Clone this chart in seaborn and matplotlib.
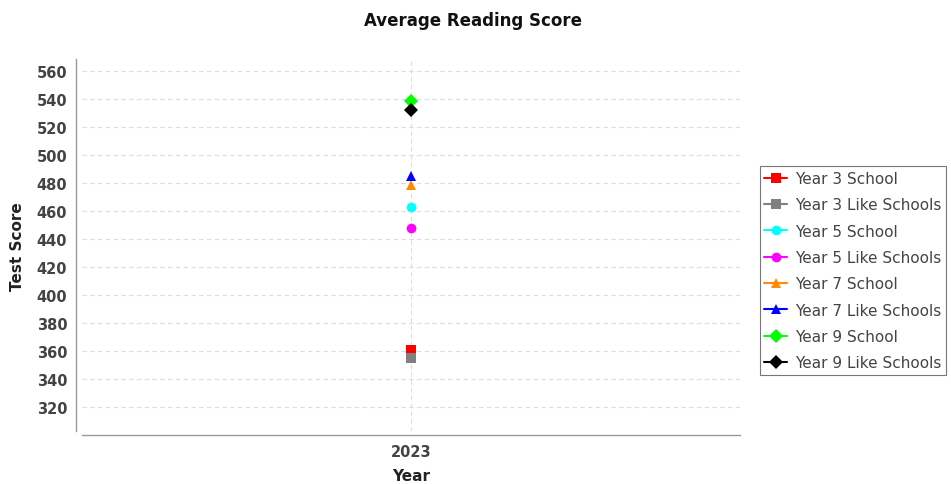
import pandas as pd
import seaborn as sns
import matplotlib.pyplot as plt

# data
series = ["Year 3 School", "Year 3 Like Schools", "Year 5 School", "Year 5 Like Schools",
          "Year 7 School", "Year 7 Like Schools", "Year 9 School", "Year 9 Like Schools"]
years = [2023] * 8
scores = [361, 355, 463, 448, 479, 485, 539, 532]
colors = ["#FF0000", "#808080", "#00FFFF", "#FF00FF", "#FF8C00", "#0000FF", "#00FF00", "#000000"]
markers = ["s", "s", "o", "o", "^", "^", "D", "D"]
y_ticks = list(range(320, 561, 20))

df = pd.DataFrame({"Year": years, "Score": scores, "Series": series})

sns.set_style("white")
plt.rcParams["font.family"] = ["DejaVu Sans"]

fig = plt.figure(figsize=(9.51, 4.85), dpi=100)
ax = fig.add_axes([0.086, 0.109, 0.692, 0.767])

sns.lineplot(data=df, x="Year", y="Score", hue="Series", style="Series",
             hue_order=series, style_order=series,
             palette=dict(zip(series, colors)), markers=dict(zip(series, markers)),
             dashes=False, markersize=7, markeredgewidth=0, ax=ax)

ax.set_xlim(2022, 2024)
ax.set_ylim(302.9, 568.6)
ax.set_xticks([2023])
ax.set_xticklabels(["2023"])
ax.set_yticks(y_ticks)
ax.grid(True, color="#dcdcdc", linestyle=(0, (4, 3)), linewidth=0.8)
ax.set_axisbelow(True)

for s in ["top", "right"]:
    ax.spines[s].set_visible(False)
for s in ["left", "bottom"]:
    ax.spines[s].set_color("#9a9a9a")
    ax.spines[s].set_linewidth(1)
ax.spines["left"].set_position(("outward", 4))
ax.spines["bottom"].set_position(("outward", 3))

ax.tick_params(axis="both", colors="#9a9a9a", length=3, labelcolor="#444444", labelsize=10.5)
ax.tick_params(axis="x", pad=3)
for lbl in ax.get_xticklabels() + ax.get_yticklabels():
    lbl.set_fontweight("bold")

ax.set_xlabel("Year", fontsize=11, fontweight="bold", color="#222222", labelpad=7)
ax.set_ylabel("Test Score", fontsize=11, fontweight="bold", color="#222222", labelpad=8)
fig.suptitle("Average Reading Score", x=0.497, y=0.975, fontsize=12, fontweight="bold", color="#111111")

ax.legend_.remove()
handles, labels = ax.get_legend_handles_labels()
leg = fig.legend(handles, labels, loc="center left", bbox_to_anchor=(0.799, 0.44),
                 frameon=True, fancybox=False, edgecolor="#555555", fontsize=11,
                 handlelength=1.5, handletextpad=0.5, labelspacing=0.74,
                 borderpad=0.3, borderaxespad=0)
leg.get_frame().set_linewidth(0.8)
for t in leg.get_texts():
    t.set_color("#444444")

fig.savefig("out.png", dpi=100)
